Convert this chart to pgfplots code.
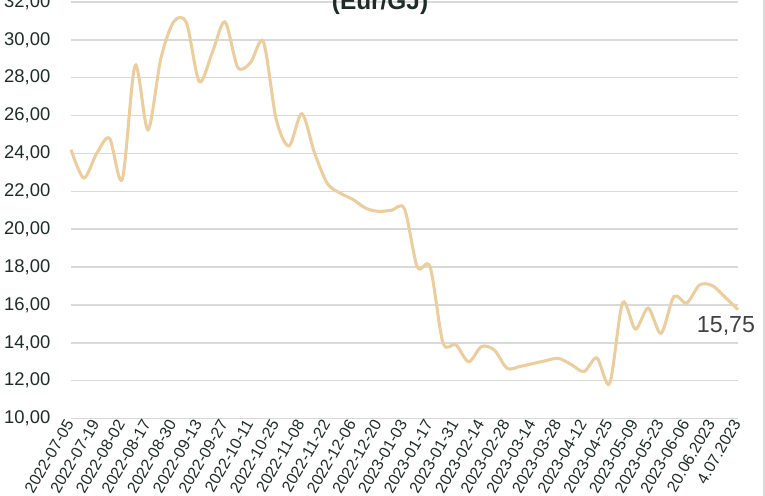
\documentclass[border=0pt]{standalone}
\usepackage{fontspec}
\setmainfont{Liberation Sans}
\usepackage{pgfplots}
\pgfplotsset{compat=1.18}
\definecolor{linetan}{RGB}{236,206,158}
\definecolor{txt}{RGB}{30,44,40}
\definecolor{gridg}{RGB}{217,217,217}
\begin{document}
\begin{tikzpicture}
\useasboundingbox (0,0) rectangle (573.75pt,372pt);
\begin{axis}[
  scale only axis,
  width=500.25pt, height=312.375pt,
  at={(53.25pt,58.125pt)}, anchor=south west,
  xmin=0, xmax=52, ymin=10, ymax=32,
  ytick={10,12,...,32},
  xtick={0,2,...,52},
  xticklabels={2022-07-05,2022-07-19,2022-08-02,2022-08-17,2022-08-30,2022-09-13,2022-09-27,2022-10-11,2022-10-25,2022-11-08,2022-11-22,2022-12-06,2022-12-20,2023-01-03,2023-01-17,2023-01-31,2023-02-14,2023-02-28,2023-03-14,2023-03-28,2023-04-12,2023-04-25,2023-05-09,2023-05-23,2023-06-06,20.06.2023,4.07.2023},
  axis line style={draw=none},
  major tick length=0pt,
  ymajorgrids,
  grid style={gridg, line width=1.1pt},
  clip=false,
  /pgf/number format/.cd, fixed, fixed zerofill, precision=2, use comma, assume math mode=true,
  /pgfplots/.cd,
  yticklabel style={font=\fontsize{13.8pt}{15pt}\selectfont, text=txt, anchor=east, xshift=-12pt},
  xticklabel style={font=\fontsize{12pt}{13pt}\selectfont, text=txt, rotate=60, anchor=east, inner sep=1pt, xshift=-1pt},
]
\addplot[linetan, line width=2.3pt, smooth, tension=0.5] coordinates {
(0,24.2) (1,22.7) (2,24.0) (3,24.8) (4,22.65) (5,28.65) (6,25.25) (7,29.0) (8,30.95) (9,30.9)
(10,27.8) (11,29.3) (12,30.95) (13,28.55) (14,28.8) (15,29.9) (16,25.8) (17,24.4) (18,26.1) (19,24.0)
(20,22.4) (21,21.9) (22,21.56) (23,21.1) (24,20.94) (25,21.0) (26,21.07) (27,18.0) (28,18.0) (29,14.0)
(30,13.9) (31,13.0) (32,13.8) (33,13.62) (34,12.65) (35,12.75) (36,12.9) (37,13.05) (38,13.18) (39,12.85)
(40,12.48) (41,13.2) (42,11.86) (43,16.1) (44,14.72) (45,15.83) (46,14.5) (47,16.44) (48,16.1) (49,17.05)
(50,17.02) (51,16.4) (52,15.75)
};
\node[font=\fontsize{17.4pt}{19pt}\selectfont, text=black!75, anchor=center, xshift=-9pt, yshift=-12pt] at (axis cs:52,15.75) {15,75};
\end{axis}
\node[font=\bfseries\fontsize{18.3pt}{20pt}\selectfont, text=txt, anchor=base] at (285pt,364.5pt) {(Eur/GJ)};
\draw[gridg, line width=0.8pt] (573pt,0) -- (573pt,372pt);
\end{tikzpicture}
\end{document}
